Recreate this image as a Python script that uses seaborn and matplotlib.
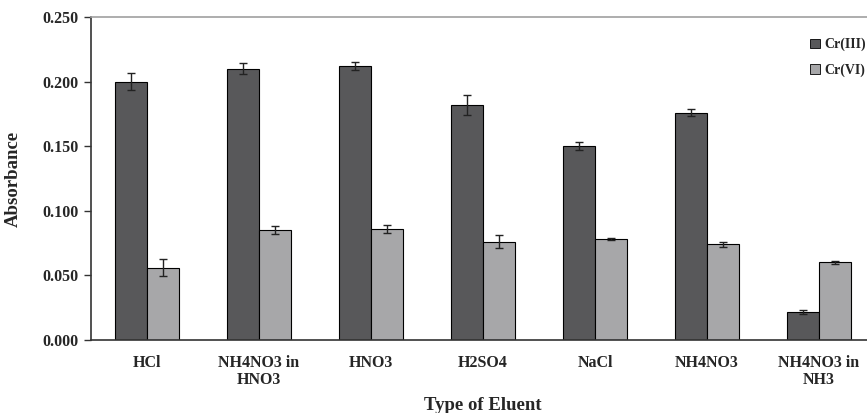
import numpy as np
import pandas as pd
import matplotlib
matplotlib.use("Agg")
import matplotlib.pyplot as plt
import seaborn as sns

# eluents and absorbance
eluents = ["HCl", "NH4NO3 in\nHNO3", "HNO3", "H2SO4", "NaCl", "NH4NO3", "NH4NO3 in\nNH3"]
cr3 = [0.200, 0.210, 0.212, 0.182, 0.150, 0.176, 0.022]
cr3_err = [0.0068, 0.0045, 0.003, 0.008, 0.003, 0.003, 0.0015]
cr6 = [0.056, 0.085, 0.086, 0.076, 0.078, 0.074, 0.060]
cr6_err = [0.0066, 0.003, 0.003, 0.005, 0.0008, 0.002, 0.0008]
species = ["Cr(III)", "Cr(VI)"]

df = pd.DataFrame({
    "Eluent": eluents * 2,
    "Species": [species[0]] * len(eluents) + [species[1]] * len(eluents),
    "Absorbance": cr3 + cr6,
    "err": cr3_err + cr6_err,
})

sns.set_style("white")
plt.rcParams["font.family"] = ["Liberation Serif", "DejaVu Serif"]
plt.rcParams["font.weight"] = "bold"

fig = plt.figure(figsize=(8.67, 4.13), dpi=100)
ax = fig.add_axes([91 / 867, 1 - 340 / 413, 784 / 867, 323 / 413])

sns.barplot(data=df, x="Eluent", y="Absorbance", hue="Species",
            palette=["#58585a", "#a7a7a9"], width=0.57, edgecolor="black",
            linewidth=0.8, ax=ax, legend=True)

# error bars at the bar centres
for cont, errs in zip(ax.containers, [cr3_err, cr6_err]):
    xs = [p.get_x() + p.get_width() / 2 for p in cont.patches]
    hs = [p.get_height() for p in cont.patches]
    ax.errorbar(xs, hs, yerr=errs, fmt="none", ecolor="#222222",
                elinewidth=1.0, capsize=3, capthick=1.0)

ax.set_ylim(0, 0.25)
ax.set_xlim(-0.5, len(eluents) - 0.5)
ax.set_yticks(np.arange(0, 0.251, 0.05))
ax.set_yticklabels([f"{v:.3f}" for v in np.arange(0, 0.251, 0.05)],
                   fontsize=11.5, fontweight="bold")
ax.set_xticks(range(len(eluents)))
ax.set_xticklabels(eluents, fontsize=11.5, fontweight="bold", linespacing=1.05)
ax.set_xticks(np.arange(-0.5, len(eluents), 1), minor=True)
ax.tick_params(axis="x", which="major", length=0, pad=11)
ax.tick_params(axis="x", which="minor", length=5, width=1, direction="out", color="#333333")
ax.tick_params(axis="y", length=5, width=1, direction="out", color="#333333", left=True, pad=4)

ax.set_xlabel("Type of Eluent", fontsize=13.5, fontweight="bold")
ax.set_ylabel("Absorbance", fontsize=13.5, fontweight="bold")
ax.xaxis.set_label_coords(0.5, -0.178)
ax.yaxis.set_label_coords(-0.088, 0.5)

for s in ["left", "bottom"]:
    ax.spines[s].set_color("#333333")
    ax.spines[s].set_linewidth(1.2)
ax.spines["top"].set_color("#a0a0a0")
ax.spines["top"].set_linewidth(1.2)
ax.spines["right"].set_visible(False)

leg = ax.legend(loc="upper left", bbox_to_anchor=(803 / 867, 1 - 31 / 413),
                bbox_transform=fig.transFigure, frameon=False, fontsize=10,
                handlelength=0.7, handleheight=0.7, handletextpad=0.35,
                labelspacing=0.85, borderpad=0)
for t in leg.get_texts():
    t.set_fontweight("bold")
for h in leg.legend_handles:
    h.set_linewidth(0.6)

fig.savefig("out.png", dpi=100)
